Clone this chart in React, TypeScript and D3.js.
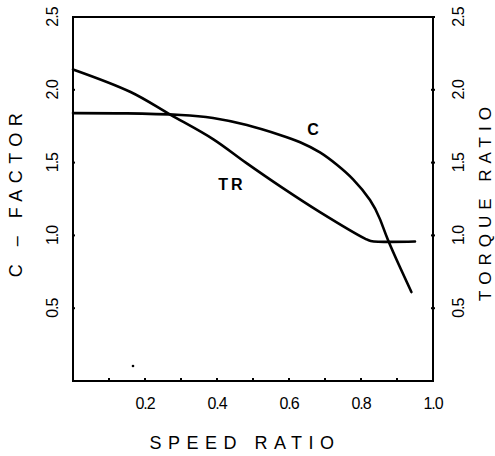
import React from "react";
import * as d3 from "d3";

const cSpeed = [0, 0.15, 0.3, 0.389, 0.483, 0.575, 0.631, 0.686, 0.733, 0.778, 0.825, 0.853, 0.875, 0.908, 0.94];
const cFactor = [1.84, 1.838, 1.827, 1.806, 1.758, 1.69, 1.64, 1.57, 1.485, 1.385, 1.243, 1.11, 0.968, 0.783, 0.611];

const trSpeed = [0, 0.16, 0.27, 0.39, 0.48, 0.58, 0.686, 0.811, 0.827, 0.95];
const trRatio = [2.14, 1.985, 1.83, 1.66, 1.5, 1.33, 1.16, 0.978, 0.962, 0.958];

const xTickLabels = ["0.2", "0.4", "0.6", "0.8", "1.0"];
const yTickLabels = ["0.5", "1.0", "1.5", "2.0", "2.5"];
const xMinorTicks = [0.1, 0.2, 0.3, 0.4, 0.5, 0.6, 0.7, 0.8, 0.9];

export default function App() {
  const W = 495, H = 456;
  const x = d3.scaleLinear().domain([0, 1]).range([73, 433]);
  const y = d3.scaleLinear().domain([0, 2.5]).range([381, 17]);
  const font = "'Liberation Sans', Arial, sans-serif";

  const cLine = d3
    .line<[number, number]>()
    .x((d) => x(d[0]))
    .y((d) => y(d[1]))
    .curve(d3.curveNatural);

  const trLine = d3
    .line<[number, number]>()
    .x((d) => x(d[0]))
    .y((d) => y(d[1]))
    .curve(d3.curveCatmullRom.alpha(0.5));

  const cPts = cSpeed.map((s, i) => [s, cFactor[i]] as [number, number]);
  const trPts = trSpeed.map((s, i) => [s, trRatio[i]] as [number, number]);

  return (
    <svg width={W} height={H} style={{ position: "absolute", left: 0, top: 0, background: "#fff" }}>
      <rect x={0} y={0} width={W} height={H} fill="#fff" />
      {/* frame */}
      <path
        d={`M${x(0)},${y(2.5)} L${x(1)},${y(2.5)} L${x(1)},${y(0)} L${x(0)},${y(0)} Z`}
        fill="none"
        stroke="#000"
        strokeWidth={2}
      />
      {/* bottom ticks */}
      {xMinorTicks.map((t) => (
        <line key={"xt" + t} x1={x(t)} x2={x(t)} y1={y(0) - 3} y2={y(0) + 1} stroke="#000" strokeWidth={2} />
      ))}
      {/* y ticks */}
      {yTickLabels.map((t) => (
        <g key={"yt" + t}>
          <line x1={x(0) - 1} x2={x(0) + 2} y1={y(+t)} y2={y(+t)} stroke="#000" strokeWidth={2} />
          <line x1={x(1) - 2} x2={x(1) + 2} y1={y(+t)} y2={y(+t)} stroke="#000" strokeWidth={2} />
        </g>
      ))}
      {/* x tick labels */}
      {xTickLabels.map((t) => (
        <text key={"xl" + t} x={x(+t)} y={403} fontFamily={font} fontSize={16} textAnchor="middle" dominantBaseline="central" letterSpacing={-1}>
          {t}
        </text>
      ))}
      {/* left tick labels */}
      {yTickLabels.map((t) => (
        <text
          key={"ll" + t}
          transform={`translate(52,${y(+t)}) rotate(-90)`}
          fontFamily={font}
          fontSize={16}
          textAnchor="middle"
          dominantBaseline="central"
          letterSpacing={-1}
        >
          {t}
        </text>
      ))}
      {/* right tick labels */}
      {yTickLabels.map((t) => (
        <text
          key={"rl" + t}
          transform={`translate(458,${y(+t)}) rotate(-90)`}
          fontFamily={font}
          fontSize={16}
          textAnchor="middle"
          dominantBaseline="central"
          letterSpacing={-1}
        >
          {t}
        </text>
      ))}
      {/* axis titles */}
      <text x={245} y={443} fontFamily={font} fontSize={18} textAnchor="middle" dominantBaseline="central" letterSpacing={6.5}>
        SPEED RATIO
      </text>
      <text
        transform={`translate(16,192) rotate(-90)`}
        fontFamily={font}
        fontSize={18}
        textAnchor="middle"
        dominantBaseline="central"
        letterSpacing={6.5}
      >
        C – FACTOR
      </text>
      <text
        transform={`translate(485,201) rotate(-90)`}
        fontFamily={font}
        fontSize={17}
        textAnchor="middle"
        dominantBaseline="central"
        letterSpacing={6}
      >
        TORQUE RATIO
      </text>
      {/* curves */}
      <path d={cLine(cPts) || ""} fill="none" stroke="#000" strokeWidth={2.6} strokeLinecap="round" />
      <path d={trLine(trPts) || ""} fill="none" stroke="#000" strokeWidth={2.6} strokeLinecap="round" />
      {/* curve labels */}
      <text x={313} y={129} fontFamily={font} fontSize={16} fontWeight="bold" textAnchor="middle" dominantBaseline="central">
        C
      </text>
      <text x={232} y={184} fontFamily={font} fontSize={16} fontWeight="bold" textAnchor="middle" dominantBaseline="central" letterSpacing={3}>
        TR
      </text>
      <circle cx={133} cy={366} r={1.3} fill="#000" />
    </svg>
  );
}
